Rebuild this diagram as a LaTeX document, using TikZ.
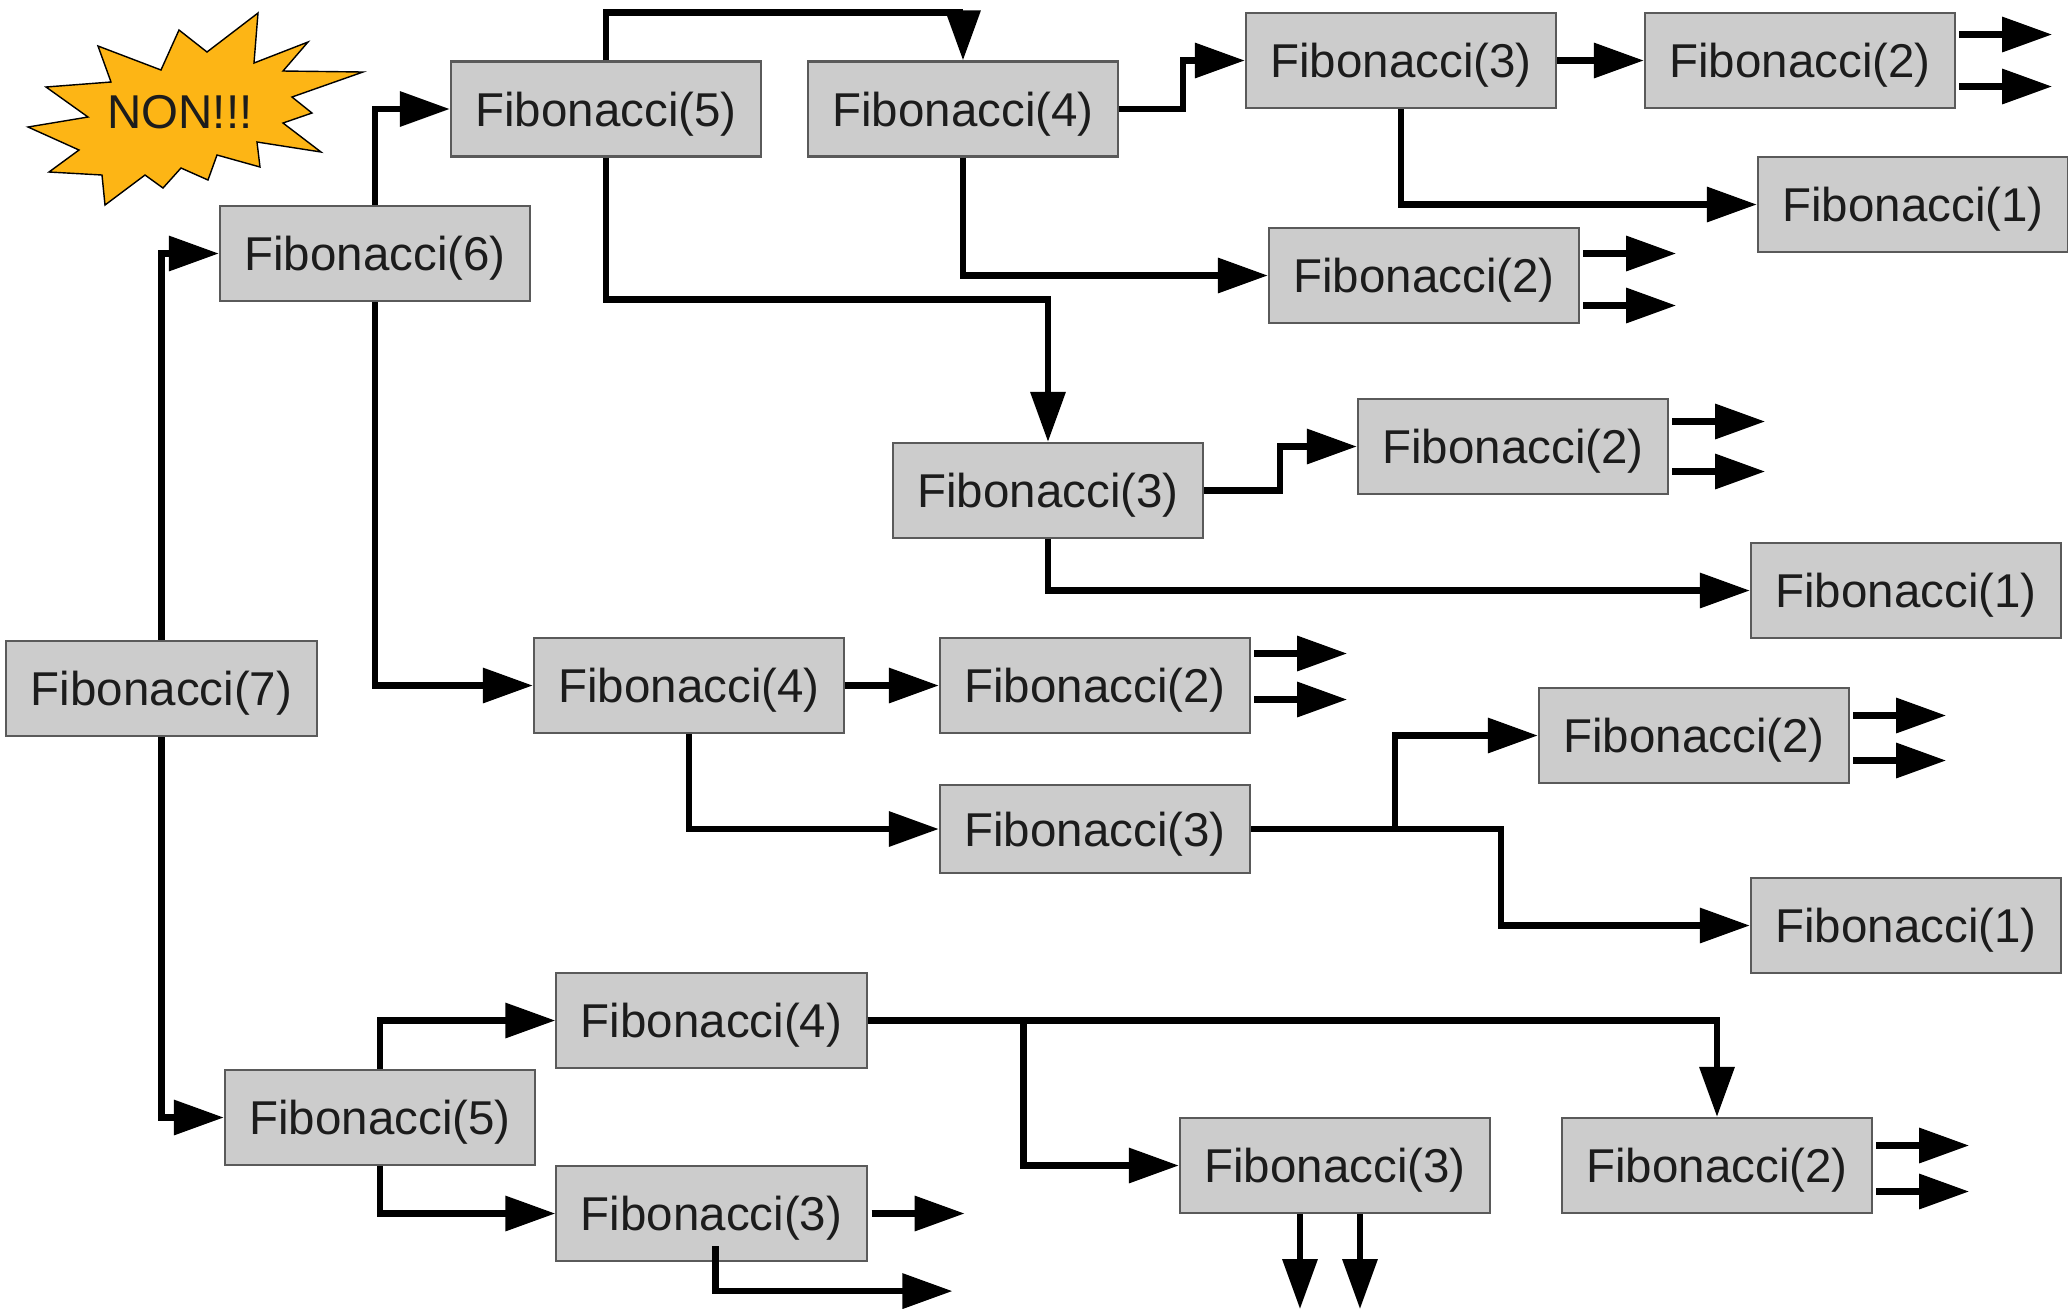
\documentclass[tikz,border=0pt]{standalone}
\usepackage{fontspec}
\setmainfont{Liberation Sans}
\usetikzlibrary{arrows.meta,calc}
\definecolor{fibInk}{HTML}{1C1C1C}
\definecolor{fibFill}{HTML}{CCCCCC}
\definecolor{fibEdge}{HTML}{5A5A5A}
\definecolor{fibGold}{HTML}{FDB515}
\tikzset{
  every picture/.style={font=\fontsize{13.5pt}{16pt}\selectfont, text=fibInk},
  fib box/.style={draw=fibEdge, line width=0.6pt, fill=fibFill,
    minimum width=3.1cm, minimum height=0.95cm, inner sep=0pt, text depth=0pt},
  fib arrow/.style={-{Triangle[length=5mm,width=3.4mm]},
    draw=black, line width=0.065cm},
  fib burst/.style={draw=black, line width=0.4pt, fill=fibGold}
}
\begin{document}
\begin{tikzpicture}[x=0.01cm,y=-0.01cm]
  \useasboundingbox (0,0) rectangle (2068,1308);
  \draw[fib burst] (258,13) -- (254,63) -- (308,42) -- (283,71) -- (363,72)
    -- (292,97) -- (312,113) -- (283,123) -- (321,152) -- (257,142)
    -- (260,167) -- (217,155) -- (208,180) -- (181,168) -- (163,188)
    -- (145,175) -- (105,205) -- (102,175) -- (49,172) -- (79,150)
    -- (28,127) -- (88,117) -- (46,87) -- (111,82) -- (98,46)
    -- (161,70) -- (179,30) -- (207,52) -- cycle;
  \node[text depth=0pt] (non) at (180,112) {NON!!!};

  \node[fib box] (f7) at (161.5,688.5) {Fibonacci(7)};
  \node[fib box] (f6) at (375,253.5) {Fibonacci(6)};
  \node[fib box] (f5a) at (606,109) {Fibonacci(5)};
  \node[fib box] (f4a) at (963,109) {Fibonacci(4)};
  \node[fib box] (f3a) at (1401,60.5) {Fibonacci(3)};
  \node[fib box] (f2a) at (1800,60.5) {Fibonacci(2)};
  \node[fib box] (f1a) at (1913,204.5) {Fibonacci(1)};
  \node[fib box] (f2b) at (1424,275.5) {Fibonacci(2)};
  \node[fib box] (f3b) at (1048,490.5) {Fibonacci(3)};
  \node[fib box] (f2c) at (1513,446.5) {Fibonacci(2)};
  \node[fib box] (f1b) at (1906,590.5) {Fibonacci(1)};
  \node[fib box] (f4b) at (689,685.5) {Fibonacci(4)};
  \node[fib box] (f2d) at (1095,685.5) {Fibonacci(2)};
  \node[fib box, minimum height=0.88cm] (f3c) at (1095,829) {Fibonacci(3)};
  \node[fib box] (f2e) at (1694,735.5) {Fibonacci(2)};
  \node[fib box] (f1c) at (1906,925.5) {Fibonacci(1)};
  \node[fib box] (f4c) at (711.5,1020.5) {Fibonacci(4)};
  \node[fib box] (f5b) at (380,1117.5) {Fibonacci(5)};
  \node[fib box] (f3d) at (711.5,1213.5) {Fibonacci(3)};
  \node[fib box] (f3e) at (1335,1165.5) {Fibonacci(3)};
  \node[fib box] (f2f) at (1717,1165.5) {Fibonacci(2)};

  \draw[fib arrow] (f7.north) |- (f6.west);
  \draw[fib arrow] (f7.south) |- (f5b.west);
  \draw[fib arrow] (f6.north) |- (f5a.west);
  \draw[fib arrow] (f6.south) |- (f4b.west);
  \draw[fib arrow] (f5a.north) -- ++(0,-48) -| (f4a.north);
  \draw[fib arrow] (f5a.south) -- ++(0,142) -| (f3b.north);
  \draw[fib arrow] (f4a.east) -- ++(64,0) |- (f3a.west);
  \draw[fib arrow] (f4a.south) |- (f2b.west);
  \draw[fib arrow] (f3a.east) -- (f2a.west);
  \draw[fib arrow] (f3a.south) |- (f1a.west);
  \draw[fib arrow] (f3b.east) -- ++(76,0) |- (f2c.west);
  \draw[fib arrow] (f3b.south) |- (f1b.west);
  \draw[fib arrow] (f4b.east) -- (f2d.west);
  \draw[fib arrow] (f4b.south) |- (f3c.west);
  \draw[fib arrow] (f3c.east) -- ++(144,0) |- (f2e.west);
  \draw[fib arrow] (f3c.east) -- ++(250,0) |- (f1c.west);
  \draw[fib arrow] (f5b.north) |- (f4c.west);
  \draw[fib arrow] (f5b.south) |- (f3d.west);
  \draw[fib arrow] (f4c.east) -- ++(156,0) |- (f3e.west);
  \draw[fib arrow] (f4c.east) -| (f2f.north);

  \foreach \n/\a/\b in {f2a/-26/26, f2b/-22/30, f2c/-25/25,
      f2d/-32/14, f2e/-20/25, f2f/-20/26}{
    \draw[fib arrow] ($(\n.east)+(3,\a)$) -- ++(93,0);
    \draw[fib arrow] ($(\n.east)+(3,\b)$) -- ++(93,0);
  }
  \draw[fib arrow] ($(f3d.east)+(4,0)$) -- ++(93,0);
  \draw[fib arrow] ($(f3d.south)+(4,-16)$) -- ++(0,45) -- ++(237,0);
  \foreach \d in {-35,25}
    \draw[fib arrow] ($(f3e.south)+(\d,0)$) -- ++(0,95);
\end{tikzpicture}
\end{document}
